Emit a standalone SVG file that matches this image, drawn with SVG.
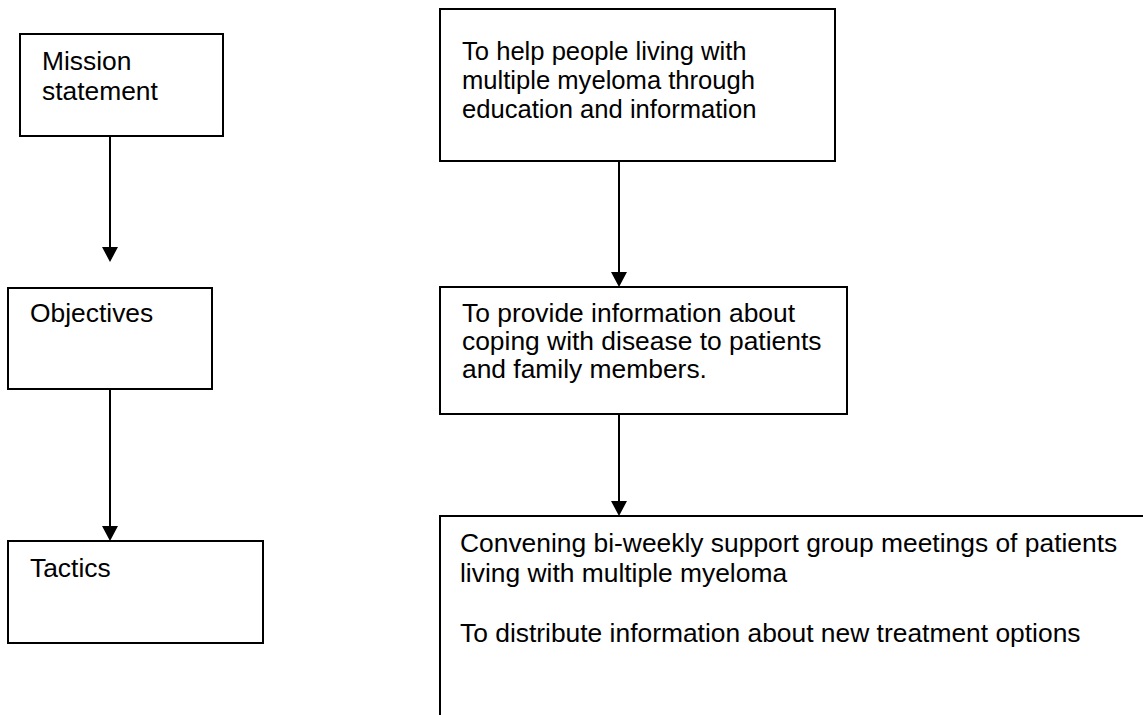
<svg xmlns="http://www.w3.org/2000/svg" width="1143" height="715" viewBox="0 0 1143 715">
<style>
.box{fill:#fff;stroke:#000;stroke-width:2}
.t{font-family:"Liberation Sans",Arial,sans-serif;font-size:26.4px;fill:#000}
.s{font-size:25.6px}
.c{stroke:#000;stroke-width:2;fill:none}
</style>
<rect width="1143" height="715" fill="#fff"/>
<g id="connectors">
<path class="c" d="M110,137 V247"/><path d="M102,247 L118,247 L110,262 Z"/>
<path class="c" d="M110,390 V526"/><path d="M102,526 L118,526 L110,541 Z"/>
<path class="c" d="M619,162 V272"/><path d="M611,272 L627,272 L619,287 Z"/>
<path class="c" d="M619,415 V501"/><path d="M611,501 L627,501 L619,516 Z"/>
</g>
<g id="mission">
<rect class="box" x="20" y="34" width="203" height="102"/>
<text class="t" x="42" y="70">Mission</text>
<text class="t" x="42" y="100">statement</text>
</g>
<g id="objectives">
<rect class="box" x="8" y="288" width="204" height="101"/>
<text class="t" x="30" y="322">Objectives</text>
</g>
<g id="tactics">
<rect class="box" x="8" y="541" width="255" height="102"/>
<text class="t" x="30" y="577">Tactics</text>
</g>
<g id="mission-text">
<rect class="box" x="440" y="9" width="395" height="152"/>
<text class="t s" x="462" y="60">To help people living with</text>
<text class="t s" x="462" y="89">multiple myeloma through</text>
<text class="t s" x="462" y="118">education and information</text>
</g>
<g id="objective-text">
<rect class="box" x="440" y="287" width="407" height="127"/>
<text class="t" x="462" y="322">To provide information about</text>
<text class="t" x="462" y="350">coping with disease to patients</text>
<text class="t" x="462" y="378">and family members.</text>
</g>
<g id="tactics-text">
<rect class="box" x="440" y="516" width="800" height="300"/>
<text class="t" x="460" y="552">Convening bi-weekly support group meetings of patients</text>
<text class="t" x="460" y="582">living with multiple myeloma</text>
<text class="t" x="460" y="642">To distribute information about new treatment options</text>
</g>
</svg>
